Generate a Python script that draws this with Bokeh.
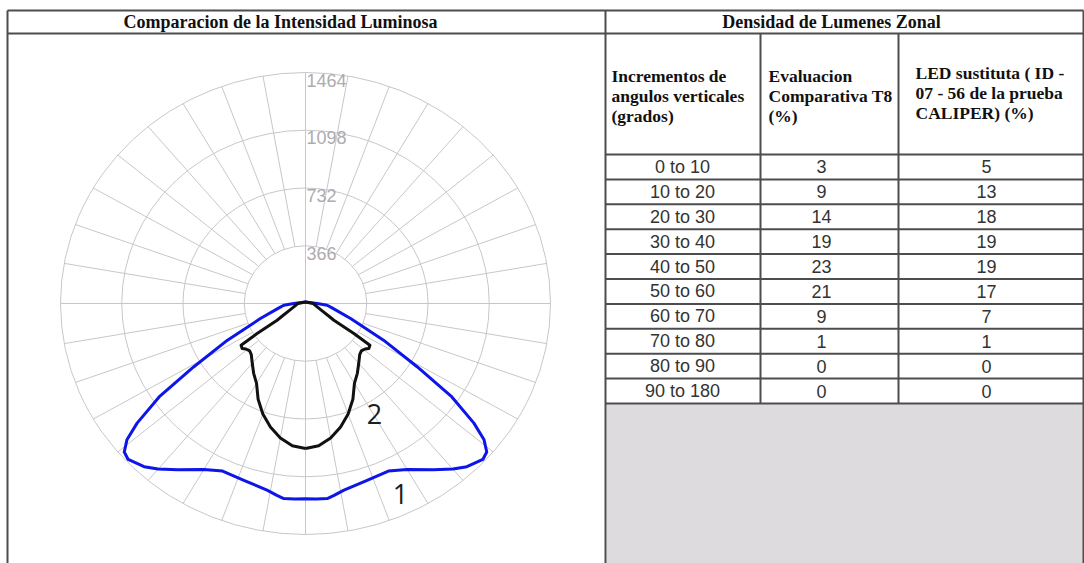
import numpy as np
from bokeh.plotting import figure
from bokeh.models import Range1d
from bokeh.core.properties import value
from bokeh.embed import file_html
from bokeh.resources import INLINE

# ---------------- data ----------------
# Polar candela distribution (angle from nadir in degrees, candela), mirrored left/right
led_angles = [0, 3, 6, 8, 11, 18, 25, 30, 36, 40, 43, 47, 49, 51, 53, 56, 59, 63.5, 70.5, 80, 85, 90, 180]
led_cd = [1237, 1240, 1243, 1228, 1205, 1180, 1172, 1215, 1302, 1370, 1414, 1449, 1435, 1373, 1260, 1049, 778, 521, 286, 161, 130, 70, 10]

t8_angles = [0, 5, 10, 15, 20, 25, 30, 35, 40, 45, 48, 51, 53, 55.5, 56.7, 58, 60, 65, 73, 90, 180]
t8_cd = [919, 905, 865, 810, 745, 670, 585, 540, 495, 458, 449, 458, 474, 467, 346, 200, 162, 110, 73, 46, 10]

ring_values = [366, 732, 1098, 1464]

# Zonal lumen table
zones = ["0 to 10", "10 to 20", "20 to 30", "30 to 40", "40 to 50",
         "50 to 60", "60 to 70", "70 to 80", "80 to 90", "90 to 180"]
t8_pct = [3, 9, 14, 19, 23, 21, 9, 1, 0, 0]
led_pct = [5, 13, 18, 19, 19, 17, 7, 1, 0, 0]

title_left = "Comparacion de la Intensidad Luminosa"
title_right = "Densidad de Lumenes Zonal"
col_heads = [
    ["Incrementos de", " angulos verticales", "(grados)"],
    ["Evaluacion", "Comparativa T8", "(%)"],
    ["LED sustituta ( ID -", "07 - 56 de la prueba", "CALIPER) (%)"],
]

# ---------------- layout constants (page pixels) ----------------
W, H = 1084, 563
CX, CY = 305, 303                 # polar centre
KX = 61.25 / 366                  # px per candela, horizontal
KY = 57.75 / 366                  # px per candela, vertical

GRID = "#c9c6cb"
BORDER = "#4d4d4d"
SERIF = value("Liberation Serif")
SANS = value("Liberation Sans")

p = figure(width=W, height=H, x_range=Range1d(0, W), y_range=Range1d(H, 0),
           output_backend="svg", toolbar_location=None, min_border=0,
           x_axis_location=None, y_axis_location=None,
           outline_line_color=None, background_fill_color="white",
           border_fill_color="white")
p.grid.visible = False
p.extra_x_ranges = {"cd_x": Range1d(-CX / KX, (W - CX) / KX)}
p.extra_y_ranges = {"cd_y": Range1d(-(H - CY) / KY, CY / KY)}
pol = dict(x_range_name="cd_x", y_range_name="cd_y")

# ---------------- polar grid ----------------
n = len(ring_values)
p.ellipse(x=[0] * n, y=[0] * n, width=[2 * r for r in ring_values],
          height=[2 * r for r in ring_values], fill_color=None,
          line_color=GRID, line_width=1, **pol)

r_in, r_out = ring_values[0], ring_values[-1]
sx0, sy0, sx1, sy1 = [], [], [], []
for a in range(0, 360, 10):
    t = np.radians(a)
    start = 0 if a % 90 == 0 else r_in
    sx0.append(start * np.sin(t)); sy0.append(-start * np.cos(t))
    sx1.append(r_out * np.sin(t)); sy1.append(-r_out * np.cos(t))
p.segment(x0=sx0, y0=sy0, x1=sx1, y1=sy1, line_color=GRID, line_width=1, **pol)

p.text(x=[0] * n, y=ring_values, text=[str(v) for v in ring_values],
       x_offset=1, y_offset=1, text_font=SANS, text_font_size="18px",
       text_color="#adabaf", text_baseline="top", text_align="left", **pol)


# ---------------- intensity curves ----------------
def outline(angles, cd):
    a = np.radians(np.asarray(angles, dtype=float))
    i = np.asarray(cd, dtype=float)
    xr, yr = i * np.sin(a), -i * np.cos(a)
    xs = np.concatenate([xr, -xr[::-1]])
    ys = np.concatenate([yr, yr[::-1]])
    return xs, ys


lx, ly = outline(led_angles, led_cd)
p.line(lx, ly, line_color="#0d15e8", line_width=3, line_join="round", **pol)
tx, ty = outline(t8_angles, t8_cd)
p.line(tx, ty, line_color="#111111", line_width=3, line_join="round", **pol)

p.text(x=[374, 400], y=[413, 493], text=["2", "1"], text_font=value("Open Sans"),
       text_font_size="27px", text_color="#1e1e1e", text_align="center",
       text_baseline="middle")

# ---------------- table frame ----------------
ROW_TOP, ROW_H = 154, 24.9
row_lines = [ROW_TOP + ROW_H * k for k in range(len(zones) + 1)]
table_bottom = row_lines[-1]

p.quad(left=606, right=W, top=table_bottom, bottom=H, fill_color="#dddbde",
       line_color=None)

seg_x0 = [7, 7, 7, 605, 1083, 760, 898] + [605] * len(row_lines)
seg_x1 = [1083, 1083, 7, 605, 1083, 760, 898] + [1083] * len(row_lines)
seg_y0 = [10, 33, 10, 10, 10, 33, 33] + row_lines
seg_y1 = [10, 33, H, H, H, table_bottom, table_bottom] + row_lines
p.segment(x0=seg_x0, y0=seg_y0, x1=seg_x1, y1=seg_y1, line_color=BORDER, line_width=2)

# ---------------- titles and headers ----------------
p.text(x=[280, 831], y=[21, 21], text=[title_left, title_right], text_font=SERIF,
       text_font_style="bold", text_font_size="18px", text_color="#111111",
       text_align="center", text_baseline="middle")

head_x = [611, 768, 915]
head_y = [[75, 95, 115], [75, 95, 115], [72, 92, 112]]
for hx, hy, lines in zip(head_x, head_y, col_heads):
    p.text(x=[hx] * len(lines), y=hy, text=lines, text_font=SERIF,
           text_font_style="bold", text_font_size="17.5px", text_color="#111111",
           text_align="left", text_baseline="middle")

# ---------------- table body ----------------
centers = [ROW_TOP + ROW_H * (k + 0.5) for k in range(len(zones))]
body = dict(text_font=SANS, text_font_size="18px", text_color="#333333",
            text_align="center", text_baseline="middle")
p.text(x=[682] * len(zones), y=centers, text=zones, **body)
p.text(x=[821] * len(zones), y=centers, text=[str(v) for v in t8_pct], **body)
p.text(x=[986] * len(zones), y=centers, text=[str(v) for v in led_pct], **body)

open("out.html", "w").write(file_html(p, INLINE))
